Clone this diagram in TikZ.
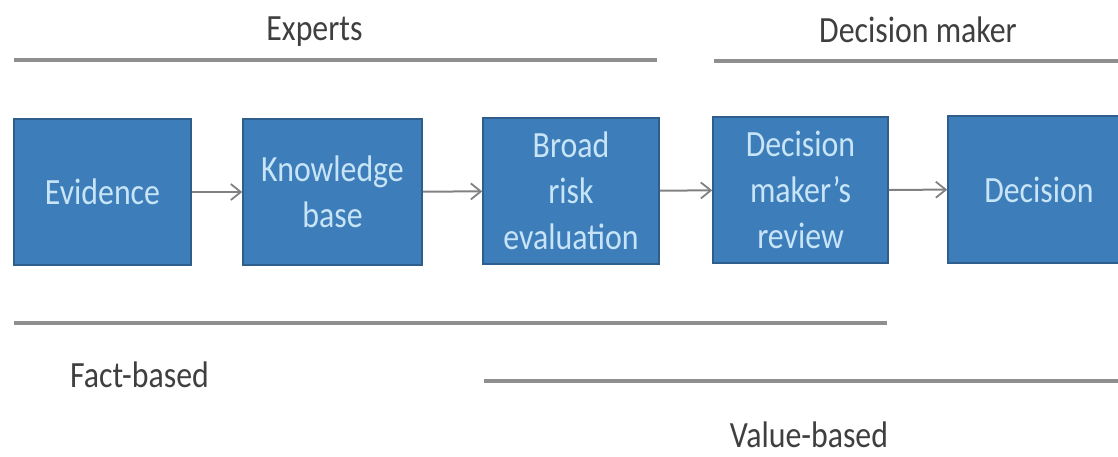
\documentclass[tikz,border=0pt]{standalone}
\usepackage{fontspec}
\usetikzlibrary{arrows.meta}
\newfontfamily\labelfont[FakeStretch=0.86]{Carlito}
\definecolor{boxfill}{HTML}{3D7EBA}
\definecolor{boxedge}{HTML}{2E5F8C}
\definecolor{boxtext}{HTML}{C8E4F7}
\definecolor{rulegray}{HTML}{8F8F8F}
\definecolor{labelgray}{HTML}{3F3F3F}
\begin{document}
\begin{tikzpicture}[x=1pt,y=1pt,
  stage/.style={draw=boxedge, line width=1.5pt, fill=boxfill, text=boxtext,
    align=center, inner sep=0pt,
    font=\labelfont\fontsize{37}{46}\selectfont},
  flow/.style={draw=rulegray!90!black, line width=2pt,
    -{Straight Barb[length=10pt,width=16pt,line width=1.8pt]}},
  band/.style={draw=rulegray, line width=3.5pt},
  tag/.style={text=labelgray, inner sep=0pt, anchor=base,
    font=\labelfont\fontsize{37}{44}\selectfont}]
  \useasboundingbox (0,0) rectangle (1118,-456);
  \clip (0,0) rectangle (1118,-456);

  % process stages
  \node[stage, minimum width=177pt, minimum height=146pt] (ev) at (102.5,-192) {Evidence};
  \node[stage, minimum width=179pt, minimum height=146pt] (kb) at (332.5,-192) {Knowledge\\base};
  \node[stage, minimum width=176pt, minimum height=146pt] (br) at (571,-191) {Broad\\risk\\evaluation};
  \node[stage, minimum width=175pt, minimum height=146pt] (dm) at (800.5,-190) {Decision\\maker’s\\review};
  \node[stage, minimum width=182pt, minimum height=147pt] (de) at (1039,-189.5) {Decision};

  \draw[flow] (ev) -- (kb);
  \draw[flow] (kb) -- (br);
  \draw[flow] (br) -- (dm);
  \draw[flow] (dm) -- (de);

  % who is involved
  \coordinate (ea) at (14,-60);   \coordinate (eb) at (657,-60);
  \coordinate (da) at (714,-61);  \coordinate (db) at (1120,-61);
  \draw[band] (ea) -- (eb);
  \draw[band] (da) -- (db);
  \node[tag] (experts) at (314.5,-40) {Experts};
  \node[tag] (maker) at (918,-42) {Decision maker};

  % kind of basis
  \coordinate (fa) at (14,-323);  \coordinate (fb) at (887,-323);
  \coordinate (va) at (484,-381); \coordinate (vb) at (1120,-381);
  \draw[band] (fa) -- (fb);
  \draw[band] (va) -- (vb);
  \node[tag] (fact) at (139.5,-387) {Fact-based};
  \node[tag] (value) at (809,-447) {Value-based};
\end{tikzpicture}
\end{document}
